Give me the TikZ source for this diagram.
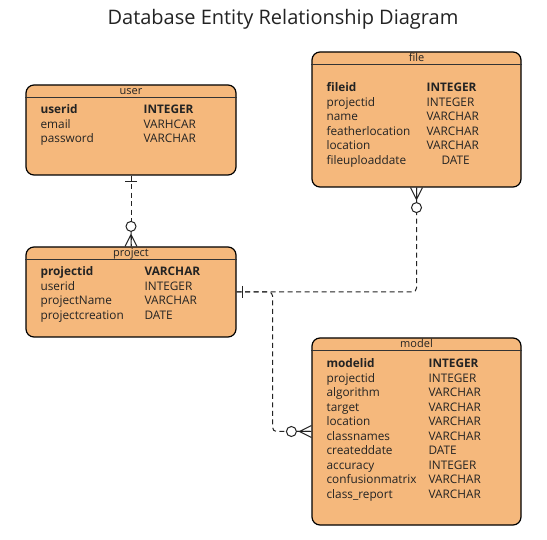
\documentclass[tikz,border=0pt]{standalone}
\usepackage{fontspec}
\setmainfont{Open Sans}
\usepackage{tikz}
\usetikzlibrary{%
  positioning
 ,calc
}
\definecolor{entfill}{RGB}{245,184,124}
\definecolor{inkgray}{RGB}{35,35,35}
\tikzstyle{ent}=[draw=black,line width=1.2pt,fill=entfill,rounded corners=8pt,inner sep=0pt]
\tikzstyle{enttitle}=[anchor=base,inner sep=0pt,text=inkgray,font=\fontsize{11}{12}\selectfont]
\tikzstyle{field}=[anchor=base west,inner sep=0pt,text=inkgray,font=\fontsize{11.8}{13}\selectfont]
\tikzstyle{rel}=[draw=inkgray,line width=1pt,dash pattern=on 5pt off 3.5pt,rounded corners=4pt]
\tikzset{
  one/.pic={\draw[inkgray,line width=1.2pt] (6,-6) -- (6,6);},
  zeromany/.pic={\draw[inkgray,line width=1pt] (0,-6) -- (12,0) -- (0,6) (0,0) -- (15,0);
                 \draw[inkgray,line width=1pt,fill=white] (20,0) circle (5);}
}

\begin{document}
\begin{tikzpicture}[x=1pt,y=-1pt]
  \useasboundingbox[fill=white] (0,0) rectangle (547,540);
  \node[text=inkgray,font=\fontsize{20}{24}\selectfont] (title) at (283,19) {Database Entity Relationship Diagram};
% entities
  \node[ent,minimum width=210,minimum height=90]  (user)    at (131,130)   {};
  \node[ent,minimum width=209,minimum height=135] (file)    at (416.5,119.5) {};
  \node[ent,minimum width=210,minimum height=90]  (project) at (131,292)   {};
  \node[ent,minimum width=209,minimum height=187] (model)   at (416.5,431.5) {};
  \foreach \e in {user,file,project,model}{
    \draw[black!80,line width=1pt] ($(\e.north west)+(0,13)$) -- ($(\e.north east)+(0,13)$);
    \node[enttitle] (\e-title) at ($(\e.north)+(0,10.5)$) {\e};
  }
% fields
  \foreach \f/\t [count=\i] in {{\textbf{userid}}/{\textbf{INTEGER}},email/VARHCAR,password/VARCHAR}{
    \node[field] (user-f\i) at ($(user.north west)+(15,{15+14.5*\i})$) {\f};
    \node[field] (user-t\i) at ($(user.north west)+(118,{15+14.5*\i})$) {\t};
  }
  \foreach \f/\t [count=\i] in {{\textbf{fileid}}/{\textbf{INTEGER}},projectid/INTEGER,name/VARCHAR,
      featherlocation/VARCHAR,location/VARCHAR,fileuploaddate/{\hspace{15pt}DATE}}{
    \node[field] (file-f\i) at ($(file.north west)+(15,{26+14.5*\i})$) {\f};
    \node[field] (file-t\i) at ($(file.north west)+(115,{26+14.5*\i})$) {\t};
  }
  \foreach \f/\t [count=\i] in {{\textbf{projectid}}/{\textbf{VARCHAR}},userid/INTEGER,
      projectName/VARCHAR,projectcreation/DATE}{
    \node[field] (project-f\i) at ($(project.north west)+(15,{15+14.5*\i})$) {\f};
    \node[field] (project-t\i) at ($(project.north west)+(119,{15+14.5*\i})$) {\t};
  }
  \foreach \f/\t [count=\i] in {{\textbf{modelid}}/{\textbf{INTEGER}},projectid/INTEGER,algorithm/VARCHAR,
      target/VARCHAR,location/VARCHAR,classnames/VARCHAR,createddate/DATE,accuracy/INTEGER,
      confusionmatrix/VARCHAR,class\_report/VARCHAR}{
    \node[field] (model-f\i) at ($(model.north west)+(15,{16+14.5*\i})$) {\f};
    \node[field] (model-t\i) at ($(model.north west)+(117,{16+14.5*\i})$) {\t};
  }
% relations
  \coordinate (split) at ($(project.east)+(36,0)$);
  \path[rel] (user.south) -- (project.north);
  \path[rel] (project.east) -| (file.south);
  \path[rel] (project.east) -- (split) |- (model.west);
  \pic[rotate=-90] at (user.south) {one};
  \pic[rotate=90] at (project.north) {zeromany};
  \pic at (project.east) {one};
  \pic[rotate=-90] at (file.south) {zeromany};
  \pic[rotate=180] at (model.west) {zeromany};
\end{tikzpicture}
\end{document}
